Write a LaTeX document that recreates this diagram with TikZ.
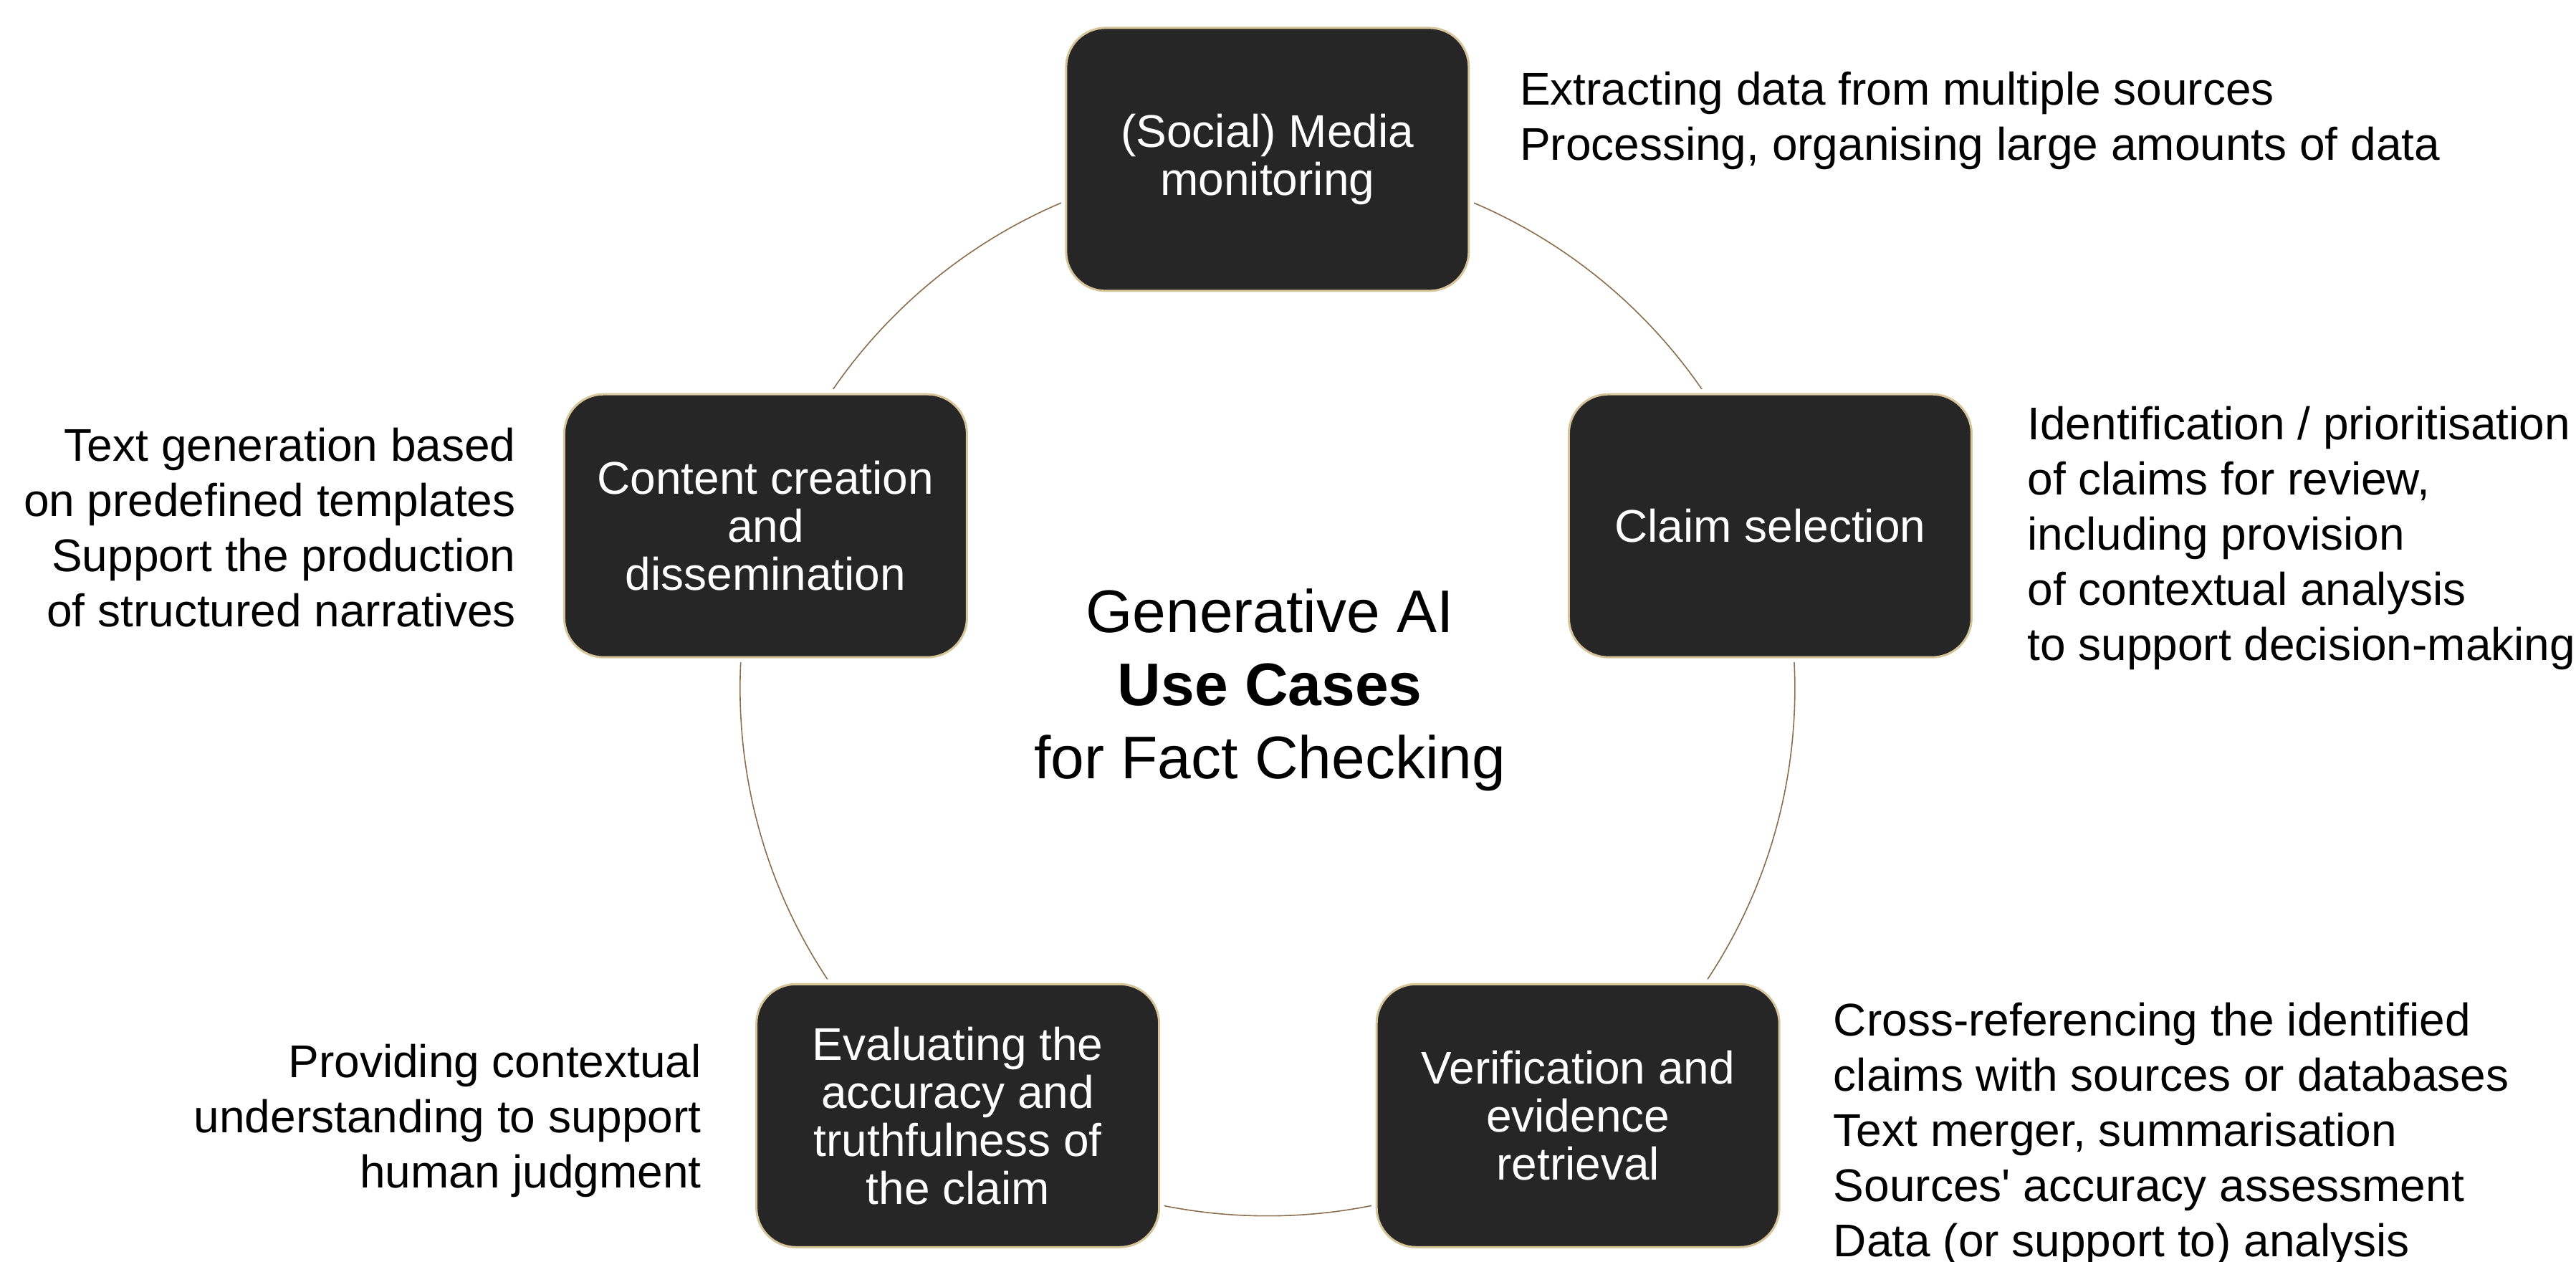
\documentclass[tikz,border=0pt]{standalone}
\usepackage{fontspec}
\setmainfont{Liberation Sans}
\definecolor{boxfill}{HTML}{262626}
\definecolor{boxline}{HTML}{D6C49A}
\definecolor{ringline}{HTML}{8B6E4E}
\begin{document}
\begin{tikzpicture}[x=2.2927pt,y=-2.2927pt,
  stage/.style={draw=boxline, line width=3pt, fill=boxfill, text=white,
    rounded corners=55pt, minimum width=562pt, minimum height=367pt,
    align=center, inner sep=0pt,
    font=\fontsize{64}{67}\selectfont,
    preaction={draw=white, line width=14pt}},
  note/.style={inner sep=0pt, font=\fontsize{64}{77}\selectfont},
  title/.style={inner sep=0pt, align=center, font=\fontsize{84}{102}\selectfont},
  ring/.style={draw=ringline, line width=1.6pt}]
\useasboundingbox (0,0) rectangle (1568,768);
\coordinate (c) at (771.5,419);
\draw[ring] (c) circle [radius=736pt];
\node[stage] (media) at (771.5,97) {(Social) Media\\monitoring};
\node[stage] (claim) at (1077.5,320) {Claim selection};
\node[stage] (verif) at (960.5,679) {Verification and\\evidence\\retrieval};
\node[stage] (eval) at (583,679) {Evaluating the\\accuracy and\\truthfulness of\\the claim};
\node[stage] (content) at (466,320) {Content creation\\and\\dissemination};
\node[title] (center) at (773,420) {Generative AI\\\textbf{Use Cases}\\for Fact Checking};
\node[note, anchor=west, align=left] (tmedia) at (925,73.5) {Extracting data from multiple sources\\Processing, organising large amounts of data};
\node[note, anchor=west, align=left] (tclaim) at (1234,327.5) {Identification / prioritisation\\of claims for review,\\including provision\\of contextual analysis\\to support decision-making};
\node[note, anchor=west, align=left] (tverif) at (1116,690.5) {Cross-referencing the identified\\claims with sources or databases\\Text merger, summarisation\\Sources\textquotesingle{} accuracy assessment\\Data (or support to) analysis};
\node[note, anchor=east, align=right] (teval) at (427,682) {Providing contextual\\understanding to support\\human judgment};
\node[note, anchor=east, align=right] (tcontent) at (314,321) {Text generation based\\on predefined templates\\Support the production\\of structured narratives};
\end{tikzpicture}
\end{document}
